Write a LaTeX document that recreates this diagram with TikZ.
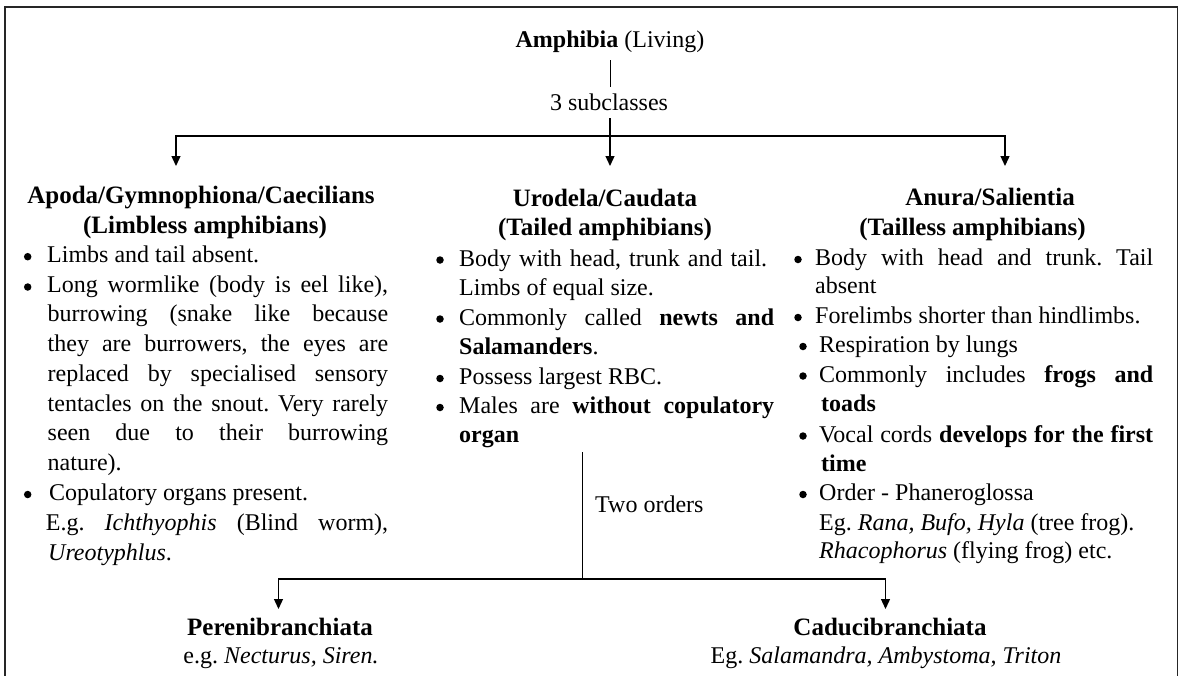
\documentclass[tikz,border=0pt]{standalone}
\usepackage{fontspec}
\setmainfont{Liberation Serif}
\usetikzlibrary{arrows.meta}
\frenchspacing
\newcommand\bodysz{\fontsize{24}{29}\selectfont\frenchspacing}
\newcommand\headsz{\fontsize{25}{30}\selectfont\bfseries\frenchspacing}
\newcommand\jl[2]{\makebox[#1pt][s]{#2}}
\tikzset{
  txt/.style={anchor=base west, inner sep=0pt, font=\bodysz},
  ctr/.style={anchor=base, inner sep=0pt, font=\bodysz},
  hd/.style={anchor=base, inner sep=0pt, font=\headsz},
  bul/.style={circle, fill=black, inner sep=0pt, minimum size=7.5pt},
  ln/.style={line width=1.3pt, black},
  arr/.style={ln, -{Triangle[width=9pt,length=10pt]}},
  frame/.style={line width=1.4pt, black!85}
}
\begin{document}
\begin{tikzpicture}[x=1pt,y=-1pt]
\useasboundingbox (0,0) rectangle (1180,675);
% frame (open at the bottom)
\draw[frame] (5,680) -- (5,7) -- (1177.5,7) -- (1177.5,680);

% top
\node[ctr] (amph) at (610,47) {\textbf{Amphibia} (Living)};
\node[ctr] (sub) at (609,110) {3 subclasses};
\coordinate (s1) at (610,60);
\coordinate (s2) at (610,87);
\draw[line width=0.9pt] (s1) -- (s2);
\coordinate (s3) at (610,118);
\coordinate (jc) at (610,136);
\coordinate (tA) at (176,166);
\coordinate (tB) at (610,166);
\coordinate (tC) at (1005,166);
\draw[ln] (s3) -- (jc);
\draw[arr] (jc) -| (tA);
\draw[arr] (jc) -- (tB);
\draw[arr] (jc) -| (tC);

% left column
\node[hd] (apoda) at (201,203) {Apoda/Gymnophiona/Caecilians};
\node[hd] (apodab) at (205,233) {(Limbless amphibians)};
\node[bul] (ba1) at (27.7,256.7) {};
\node[txt] (a1) at (47,262) {Limbs and tail absent.};
\node[bul] (ba2) at (27.7,287) {};
\node[txt] (a2) at (47,292) {\jl{341}{Long wormlike (body is eel like),}};
\node[txt] (a3) at (47.5,321.5) {\jl{340.5}{burrowing (snake like because}};
\node[txt] (a4) at (47.5,351) {\jl{340.5}{they are burrowers, the eyes are}};
\node[txt] (a5) at (47.5,381) {\jl{340.5}{replaced by specialised sensory}};
\node[txt] (a6) at (47.5,411) {\jl{340.5}{tentacles on the snout. Very rarely}};
\node[txt] (a7) at (47.5,440) {\jl{340.5}{seen due to their burrowing}};
\node[txt] (a8) at (47.5,470) {nature).};
\node[bul] (ba3) at (27.7,494.5) {};
\node[txt] (a9) at (49,500) {Copulatory organs present.};
\node[txt] (a10) at (45.7,530) {\jl{342.3}{E.g. \textit{Ichthyophis} (Blind worm),}};
\node[txt] (a11) at (48,560) {\textit{Ureotyphlus}.};

% middle column
\node[hd] (uro) at (605,206) {Urodela/Caudata};
\node[hd] (urob) at (605,235) {(Tailed amphibians)};
\node[bul] (bm1) at (440,260) {};
\node[txt] (m1) at (459,266) {\jl{308}{Body with head, trunk and tail.}};
\node[txt] (m2) at (459,295) {Limbs of equal size.};
\node[bul] (bm2) at (440,319) {};
\node[txt] (m3) at (459,325) {\jl{315}{Commonly called \textbf{newts and}}};
\node[txt] (m4) at (459,354) {\textbf{Salamanders}.};
\node[bul] (bm3) at (440,378.5) {};
\node[txt] (m5) at (459,384) {Possess largest RBC.};
\node[bul] (bm4) at (440,407.5) {};
\node[txt] (m6) at (459,413) {\jl{315}{Males are \textbf{without copulatory}}};
\node[txt] (m7) at (459,442) {\textbf{organ}};

% right column
\node[hd] (anu) at (990,205) {Anura/Salientia};
\node[hd] (anub) at (972.5,235) {(Tailless amphibians)};
\node[bul] (br1) at (798,259.5) {};
\node[txt] (r1) at (815,265) {\jl{338}{Body with head and trunk. Tail}};
\node[txt] (r2) at (815,293) {absent};
\node[bul] (br2) at (798,317.5) {};
\node[txt] (r3) at (815,323) {Forelimbs shorter than hindlimbs.};
\node[bul] (br3) at (803,346.5) {};
\node[txt] (r4) at (819,352) {Respiration by lungs};
\node[bul] (br4) at (803,376) {};
\node[txt] (r5) at (819,382) {\jl{334}{Commonly includes \textbf{frogs and}}};
\node[txt] (r6) at (821,411) {\textbf{toads}};
\node[bul] (br5) at (803,436) {};
\node[txt] (r7) at (819,442) {\jl{334}{Vocal cords \textbf{develops for the first}}};
\node[txt] (r8) at (821,471) {\textbf{time}};
\node[bul] (br6) at (803,494.5) {};
\node[txt] (r9) at (819,500) {Order - Phaneroglossa};
\node[txt] (r10) at (819,530) {Eg. \textit{Rana, Bufo, Hyla} (tree frog).};
\node[txt] (r11) at (819,558) {\textit{Rhacophorus} (flying frog) etc.};

% two orders
\coordinate (o1) at (582,452);
\coordinate (jo) at (582,579);
\coordinate (tP) at (278.5,609);
\coordinate (tQ) at (885.5,609);
\node[txt] (two) at (595,512) {Two orders};
\draw[line width=1pt] (o1) -- (jo);
\draw[arr] (jo) -| (tP);
\draw[arr] (jo) -| (tQ);

\node[hd] (pere) at (280,635.5) {Perenibranchiata};
\node[ctr] (perex) at (281,663) {e.g. \textit{Necturus, Siren.}};
\node[hd] (cadu) at (890,635.5) {Caducibranchiata};
\node[ctr] (cadux) at (886,663) {Eg. \textit{Salamandra, Ambystoma, Triton}};
\end{tikzpicture}
\end{document}
